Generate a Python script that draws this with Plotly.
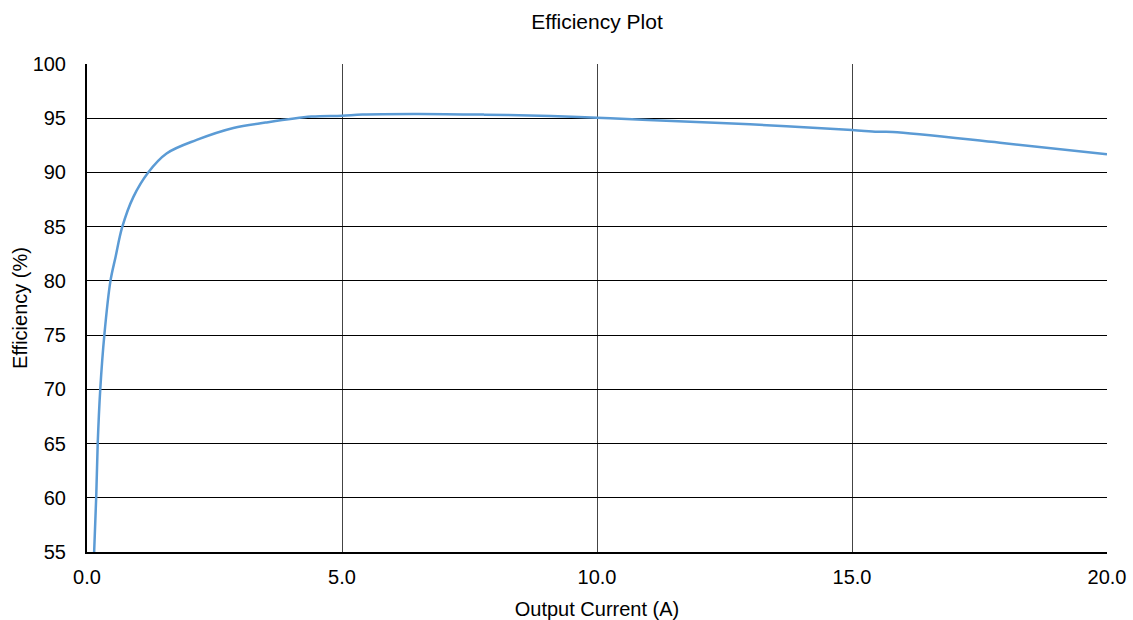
import plotly.graph_objects as go

current_a = [0.14, 0.18, 0.21, 0.26, 0.34, 0.46, 0.56, 0.69, 0.91, 1.20, 1.56, 2.15, 2.87, 3.5,
             4.4, 5.0, 5.4, 6.5, 7.8, 9.1, 10.0, 11.0, 13.0, 15.0, 15.5, 15.8, 17.9, 20.0]
efficiency = [55, 60, 65, 70, 75, 80, 82.2, 84.95, 87.75, 90.0, 91.75, 93.0, 94.1, 94.6,
              95.15, 95.23, 95.35, 95.4, 95.33, 95.2, 95.05, 94.84, 94.44, 93.91, 93.75, 93.73, 92.74, 91.67]

x_ticks = [0, 5, 10, 15, 20]
x_tick_labels = ["0.0", "5.0", "10.0", "15.0", "20.0"]
y_ticks = [55, 60, 65, 70, 75, 80, 85, 90, 95, 100]

font = "Liberation Sans, Arial, sans-serif"
W, H = 1133, 620

fig = go.Figure()
fig.add_trace(go.Scatter(
    x=current_a, y=efficiency, mode="lines",
    line=dict(color="#5B9BD5", width=2.5, shape="spline", smoothing=1.0),
    showlegend=False, hoverinfo="x+y",
))

fig.update_layout(
    width=W, height=H,
    margin=dict(l=87, r=26, t=64, b=68),
    paper_bgcolor="white", plot_bgcolor="white",
    font=dict(family=font, size=20, color="black"),
    title=dict(text="Efficiency Plot", x=0.5, xanchor="center", xref="paper",
               y=1 - 22 / H, yanchor="middle",
               font=dict(family=font, size=21, color="black")),
)
fig.update_xaxes(
    range=[0, 20], tickvals=x_ticks, ticktext=x_tick_labels,
    showgrid=True, gridcolor="#444444", gridwidth=1,
    showline=True, linecolor="black", linewidth=2, mirror=False,
    ticks="", ticklabelstandoff=6, zeroline=False, automargin=False,
    ticklabeloverflow="allow",
    title=dict(text="Output Current (A)", standoff=15, font=dict(size=20)),
    tickfont=dict(size=20),
)
fig.update_yaxes(
    range=[55, 100], tickvals=y_ticks,
    showgrid=True, gridcolor="black", gridwidth=1,
    showline=True, linecolor="black", linewidth=2,
    ticks="", ticklabelstandoff=15, zeroline=False, automargin=False,
    ticklabeloverflow="allow",
    title=dict(text="Efficiency (%)", standoff=0, font=dict(size=20)),
    tickfont=dict(size=20),
)
fig.write_html(
    "out.html",
    config={"displayModeBar": False},
    post_script="document.body.style.margin='0px';document.body.style.overflow='hidden';",
)
